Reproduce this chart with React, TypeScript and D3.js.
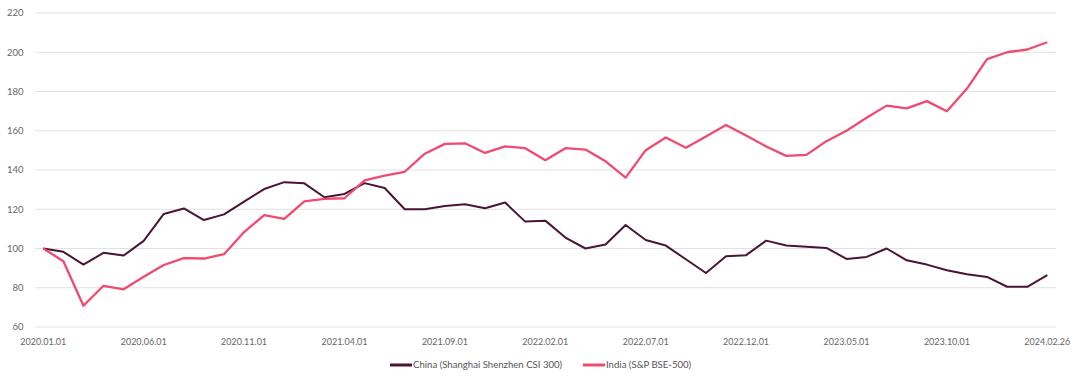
import React, { useEffect, useRef } from "react";
import * as d3 from "d3";

const categories: string[] = [
  "2020.01.01", "2020.02.01", "2020.03.01", "2020.04.01", "2020.05.01", "2020.06.01",
  "2020.07.01", "2020.08.01", "2020.09.01", "2020.10.01", "2020.11.01", "2020.12.01",
  "2021.01.01", "2021.02.01", "2021.03.01", "2021.04.01", "2021.05.01", "2021.06.01",
  "2021.07.01", "2021.08.01", "2021.09.01", "2021.10.01", "2021.11.01", "2021.12.01",
  "2022.01.01", "2022.02.01", "2022.03.01", "2022.04.01", "2022.05.01", "2022.06.01",
  "2022.07.01", "2022.08.01", "2022.09.01", "2022.10.01", "2022.11.01", "2022.12.01",
  "2023.01.01", "2023.02.01", "2023.03.01", "2023.04.01", "2023.05.01", "2023.06.01",
  "2023.07.01", "2023.08.01", "2023.09.01", "2023.10.01", "2023.11.01", "2023.12.01",
  "2024.01.01", "2024.02.01", "2024.02.26",
];

const tickLabels: string[] = [
  "2020.01.01", "2020.06.01", "2020.11.01", "2021.04.01", "2021.09.01", "2022.02.01",
  "2022.07.01", "2022.12.01", "2023.05.01", "2023.10.01", "2024.02.26",
];

const yTicks: number[] = [60, 80, 100, 120, 140, 160, 180, 200, 220];

const chinaValues: number[] = [
  100, 98.3, 91.8, 97.8, 96.4, 103.9, 117.6, 120.4, 114.5, 117.4,
  123.9, 130.3, 133.8, 133.2, 126.1, 127.8, 133.3, 130.8, 120, 120,
  121.7, 122.6, 120.5, 123.4, 113.7, 114.2, 105.6, 100, 102, 112,
  104.3, 101.5, 94.5, 87.5, 96, 96.6, 104, 101.5, 100.9, 100.3,
  94.7, 95.7, 100, 94, 91.8, 88.9, 86.9, 85.5, 80.5, 80.5, 86.4,
];

const indiaValues: number[] = [
  100, 93.5, 70.8, 81, 79.2, 85.6, 91.6, 95.1, 94.9, 97.1,
  108.4, 117, 115.1, 124, 125.3, 125.6, 134.7, 137.1, 139.1, 148.3,
  153.3, 153.6, 148.7, 152, 151.1, 145, 151.1, 150.4, 144.4, 136.1,
  150.1, 156.6, 151.3, 157.1, 162.9, 157.6, 152, 147.2, 147.7, 154.7,
  160, 166.6, 172.8, 171.4, 175.1, 169.9, 181.5, 196.5, 200, 201.4, 205.1,
];

const seriesNames: string[] = ["China (Shanghai Shenzhen CSI 300)", "India (S&P BSE-500)"];
const seriesColors: string[] = ["#4a1535", "#ef4a6f"];

const W = 1080;
const H = 383;
const FONT = "Lato, 'Noto Sans', sans-serif";

export default function App() {
  const ref = useRef<SVGSVGElement | null>(null);

  useEffect(() => {
    const svg = d3.select(ref.current);
    svg.selectAll("*").remove();

    const x = d3.scalePoint<string>().domain(categories).range([43.3, 1047.3]);
    const y = d3.scaleLinear().domain([60, 220]).range([327, 13]);

    // gridlines
    svg
      .append("g")
      .selectAll("line")
      .data(yTicks)
      .join("line")
      .attr("x1", 35)
      .attr("x2", 1056)
      .attr("y1", (d) => y(d))
      .attr("y2", (d) => y(d))
      .attr("stroke", "#e1e1e1")
      .attr("stroke-width", 1);

    // y labels
    svg
      .append("g")
      .selectAll("text")
      .data(yTicks)
      .join("text")
      .attr("x", 23.5)
      .attr("y", (d) => y(d))
      .attr("dy", "0.35em")
      .attr("text-anchor", "end")
      .attr("font-family", FONT)
      .attr("font-size", 9.5)
      .attr("fill", "#666")
      .text((d) => String(d));

    // x labels
    svg
      .append("g")
      .selectAll("text")
      .data(tickLabels)
      .join("text")
      .attr("x", (d) => x(d) as number)
      .attr("y", 345)
      .attr("text-anchor", "middle")
      .attr("font-family", FONT)
      .attr("font-size", 9)
      .attr("fill", "#666")
      .text((d) => d);

    const line = d3
      .line<number>()
      .x((_, i) => x(categories[i]) as number)
      .y((d) => y(d));

    const allSeries = [chinaValues, indiaValues];
    allSeries.forEach((vals, k) => {
      svg
        .append("path")
        .datum(vals)
        .attr("d", line)
        .attr("fill", "none")
        .attr("stroke", seriesColors[k])
        .attr("stroke-width", k === 0 ? 2 : 2.3)
        .attr("stroke-linejoin", "round");
    });

    // legend
    const legendX = [390, 583];
    const lg = svg.append("g");
    seriesNames.forEach((name, k) => {
      lg.append("line")
        .attr("x1", legendX[k])
        .attr("x2", legendX[k] + 22)
        .attr("y1", 365)
        .attr("y2", 365)
        .attr("stroke", seriesColors[k])
        .attr("stroke-width", 3);
      lg.append("text")
        .attr("x", legendX[k] + 23)
        .attr("y", 365)
        .attr("dy", "0.35em")
        .attr("font-family", FONT)
        .attr("font-size", 9.6)
        .attr("fill", "#555")
        .text(name);
    });
  }, []);

  return (
    <svg
      ref={ref}
      width={W}
      height={H}
      style={{ position: "absolute", left: 0, top: 0, background: "#fff" }}
    />
  );
}
